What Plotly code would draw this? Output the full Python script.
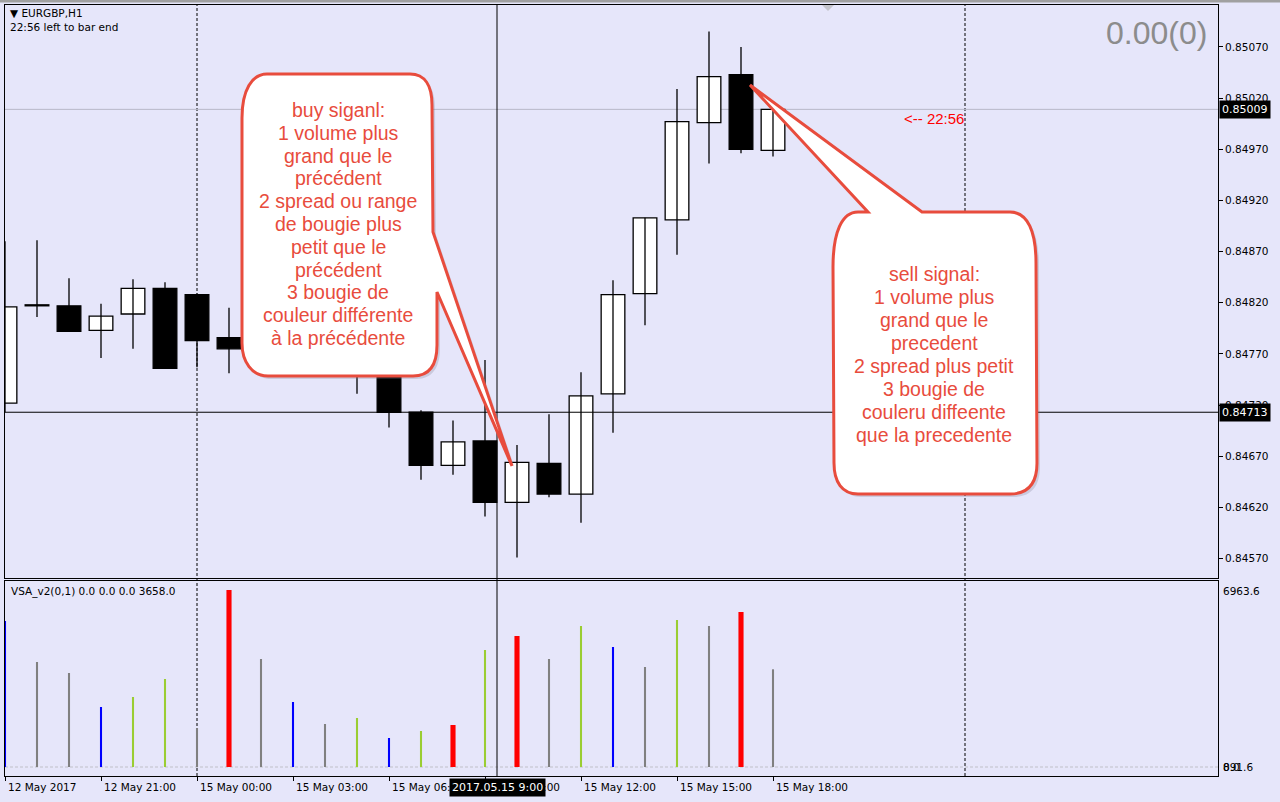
import plotly.graph_objects as go

# ---------------- data ----------------
bar_index = list(range(25))
opens  = [0.84722, 0.84817, 0.84817, 0.84793, 0.84809, 0.84834, 0.84828, 0.84786, 0.84775, 0.84794,
          0.84779, 0.84769, 0.84760, 0.84713, 0.84661, 0.84685, 0.84625, 0.84663, 0.84633, 0.84731,
          0.84829, 0.84901, 0.84996, 0.85043, 0.84969]
highs  = [0.84880, 0.84881, 0.84844, 0.84819, 0.84843, 0.84840, 0.84829, 0.84815, 0.84801, 0.84799,
          0.84786, 0.84779, 0.84764, 0.84715, 0.84705, 0.84764, 0.84681, 0.84711, 0.84752, 0.84842,
          0.84903, 0.85029, 0.85085, 0.85070, 0.85009]
lows   = [0.84713, 0.84806, 0.84792, 0.84766, 0.84775, 0.84756, 0.84757, 0.84751, 0.84764, 0.84772,
          0.84762, 0.84731, 0.84698, 0.84647, 0.84652, 0.84611, 0.84571, 0.84630, 0.84605, 0.84693,
          0.84798, 0.84867, 0.84956, 0.84966, 0.84963]
closes = [0.84816, 0.84818, 0.84792, 0.84807, 0.84834, 0.84756, 0.84783, 0.84775, 0.84794, 0.84779,
          0.84769, 0.84760, 0.84713, 0.84661, 0.84684, 0.84625, 0.84664, 0.84633, 0.84729, 0.84828,
          0.84903, 0.84997, 0.85041, 0.84970, 0.85009]

volumes = [5466, 3931, 3519, 2246, 2621, 3295, 1460, 6627, 4044, 2434,
           1610, 1835, 1086, 1348, 1572, 4380, 4905, 4044, 5279, 4493,
           3744, 5504, 5279, 5803, 3658]
vol_class = ['blue', 'gray', 'gray', 'blue', 'green', 'green', 'gray', 'red', 'gray', 'blue',
             'gray', 'green', 'blue', 'green', 'red', 'green', 'red', 'gray', 'green', 'blue',
             'gray', 'green', 'gray', 'red', 'gray']

tick_idx = [0, 3, 6, 9, 12, 15, 18, 21, 24]
tick_labels = ["12 May 2017", "12 May 21:00", "15 May 00:00", "15 May 03:00", "15 May 06:00",
               "15 May 09:00", "15 May 12:00", "15 May 15:00", "15 May 18:00"]
price_ticks = [0.84570, 0.84620, 0.84670, 0.84720, 0.84770, 0.84820, 0.84870,
               0.84920, 0.84970, 0.85020, 0.85070]
separator_idx = [6, 30]
current_price = 0.85009
cross_price = 0.84713
cross_idx = 15.375
vol_max_label = 6963.6
vol_min_label = 891.6

buy_text = ["buy siganl:", "1 volume plus", "grand que le", "précédent", "2 spread ou range",
            "de bougie plus", "petit que le", "précédent", "3 bougie de",
            "couleur différente", "à la précédente"]
sell_text = ["sell signal:", "1 volume plus", "grand que le", "precedent", "2 spread plus petit",
             "3 bougie de", "couleru diffeente", "que la precedente"]

# ---------------- styles ----------------
BG = "#E6E6FA"
RED = "#E84C3D"
vol_colors = {'blue': '#0000FF', 'gray': '#808080', 'green': '#9ACD32', 'red': '#FF0000'}
vol_widths = {'blue': 0.065, 'gray': 0.065, 'green': 0.065, 'red': 0.16}

W, H = 1280, 802
ML, MR, MT, MB = 5, 62, 5, 26
PW = W - ML - MR
PH = H - MT - MB
MAIN_BOTTOM_PX = 578
LOW_TOP_PX = 581


def PX(x):
    return (x - ML) / PW


def PY(y):
    return (H - MB - y) / PH


def path(points):
    out = []
    for cmd, pts in points:
        s = cmd
        for (x, y) in pts:
            s += " %.5f,%.5f" % (PX(x), PY(y))
        out.append(s)
    return " ".join(out) + " Z"


fig = go.Figure()

# wicks
wx, wy = [], []
for i, lo, hi in zip(bar_index, lows, highs):
    wx += [i, i, None]
    wy += [lo, hi, None]
fig.add_trace(go.Scatter(x=wx, y=wy, mode="lines", line=dict(color="black", width=1.3),
                         xaxis="x", yaxis="y", hoverinfo="skip"))

# bodies
base = [min(o, c) for o, c in zip(opens, closes)]
height = [max(abs(c - o), 0.00001) for o, c in zip(opens, closes)]
body_colors = ["white" if c >= o else "black" for o, c in zip(opens, closes)]
fig.add_trace(go.Bar(x=bar_index, y=height, base=base, width=0.74,
                     marker=dict(color=body_colors, line=dict(color="black", width=1.3)),
                     xaxis="x", yaxis="y", hoverinfo="skip"))

# volume histogram
fig.add_trace(go.Bar(x=bar_index, y=volumes,
                     width=[vol_widths[c] for c in vol_class],
                     marker=dict(color=[vol_colors[c] for c in vol_class], line=dict(width=0)),
                     xaxis="x2", yaxis="y2", hoverinfo="skip"))

main_dom = [(H - MB - MAIN_BOTTOM_PX) / PH, 1]
low_dom = [0, (H - MB - LOW_TOP_PX) / PH]
xmax = PW / 32.0
low_range = [-337, vol_max_label]

axis_common = dict(showline=True, mirror=True, linecolor="black", linewidth=1,
                   showgrid=False, zeroline=False)

fig.update_layout(
    width=W, height=H,
    margin=dict(l=ML, r=MR, t=MT, b=MB),
    paper_bgcolor=BG, plot_bgcolor=BG,
    font=dict(family="DejaVu Sans", size=10.5, color="black"),
    showlegend=False, barmode="overlay", hovermode=False,
    xaxis=dict(domain=[0, 1], anchor="y", range=[0, xmax], showticklabels=False, ticks="",
               **axis_common),
    xaxis2=dict(domain=[0, 1], anchor="y2", matches="x", range=[0, xmax],
                tickvals=tick_idx, ticks="outside", ticklen=4, tickcolor="black",
                showticklabels=False, **axis_common),
    yaxis=dict(domain=main_dom, anchor="x", side="right", range=[0.84551, 0.85111],
               tickvals=price_ticks, ticktext=["%.5f" % v for v in price_ticks],
               ticks="outside", ticklen=4, tickcolor="black", **axis_common),
    yaxis2=dict(domain=low_dom, anchor="x2", side="right", range=low_range,
                showticklabels=False, ticks="", **axis_common),
)

shapes = []
# window frame top
shapes.append(dict(type="rect", xref="paper", yref="paper", x0=PX(0), x1=PX(W), y0=PY(0), y1=PY(2.5),
                   fillcolor="#A0A0A0", line=dict(width=0), layer="above"))
# separators
for s in separator_idx:
    shapes.append(dict(type="line", xref="x", yref="paper", x0=s, x1=s, y0=0, y1=1,
                       line=dict(color="black", width=1, dash="3px,2px"), layer="below"))
# current price line
shapes.append(dict(type="line", xref="paper", yref="y", x0=0, x1=1, y0=current_price, y1=current_price,
                   line=dict(color="#B8B8C8", width=1), layer="below"))
# zero level in volume window
shapes.append(dict(type="line", xref="paper", yref="y2", x0=0, x1=1, y0=0, y1=0,
                   line=dict(color="#C0C0C8", width=1, dash="3px,2px"), layer="below"))
# crosshair
shapes.append(dict(type="line", xref="paper", yref="y", x0=0, x1=1, y0=cross_price, y1=cross_price,
                   line=dict(color="black", width=1), layer="above"))
shapes.append(dict(type="line", xref="x", yref="paper", x0=cross_idx, x1=cross_idx, y0=0, y1=1,
                   line=dict(color="black", width=1), layer="above"))
# small shift marker
shapes.append(dict(type="path", xref="paper", yref="paper",
                   path=path([("M", [(822, 5)]), ("L", [(834, 5)]), ("L", [(828, 11)])]),
                   fillcolor="#C4C4CC", line=dict(width=0), layer="above"))

buy_pts = [("M", [(267, 74)]), ("L", [(410, 74)]),
           ("C", [(425, 74), (432, 86), (432, 105)]),
           ("L", [(433, 232)]), ("L", [(512, 466)]), ("L", [(437, 292)]),
           ("L", [(437, 345)]),
           ("C", [(437, 364), (430, 376), (413, 376)]),
           ("L", [(268, 376)]),
           ("C", [(252, 376), (242, 362), (242, 343)]),
           ("L", [(242, 118)]),
           ("C", [(242, 90), (252, 74), (267, 74)])]
sell_pts = [("M", [(858, 212)]), ("L", [(868, 212)]), ("L", [(750, 85)]), ("L", [(922, 212)]),
            ("L", [(1010, 212)]),
            ("C", [(1028, 212), (1036, 232), (1036, 263)]),
            ("L", [(1037, 463)]),
            ("C", [(1037, 484), (1028, 494), (1010, 494)]),
            ("L", [(858, 494)]),
            ("C", [(842, 494), (834, 482), (834, 463)]),
            ("L", [(833, 267)]),
            ("C", [(833, 232), (842, 212), (858, 212)])]


def shifted(pts, dx, dy):
    return [(c, [(x + dx, y + dy) for (x, y) in p]) for c, p in pts]


for pts in (buy_pts, sell_pts):
    shapes.append(dict(type="path", xref="paper", yref="paper", path=path(shifted(pts, 3, 3)),
                       fillcolor="rgba(120,120,140,0.25)", line=dict(width=0), layer="above"))
    shapes.append(dict(type="path", xref="paper", yref="paper", path=path(pts),
                       fillcolor="white", line=dict(color=RED, width=3), layer="above"))

fig.update_layout(shapes=shapes)

ann = []
# x labels
for i, t in zip(tick_idx, tick_labels):
    ann.append(dict(x=i, xref="x2", y=PY(787), yref="paper", text=t, showarrow=False,
                    xanchor="left", yanchor="middle", xshift=1, font=dict(size=10.5)))
# crosshair time label
ann.append(dict(x=cross_idx, xref="x2", y=PY(787), yref="paper", text="2017.05.15 9:00",
                showarrow=False, xanchor="center", yanchor="middle", bgcolor="black",
                font=dict(color="white", size=11), borderpad=2))
# price boxes
for p in (current_price, cross_price):
    ann.append(dict(x=PX(1219), xref="paper", y=p, yref="y", text="%.5f" % p, showarrow=False,
                    xanchor="left", yanchor="middle", bgcolor="black",
                    font=dict(color="white", size=11), borderpad=2))
# volume scale labels
ann.append(dict(x=PX(1221), xref="paper", y=PY(591), yref="paper", text="%.1f" % vol_max_label,
                showarrow=False, xanchor="left", yanchor="middle"))
ann.append(dict(x=PX(1221), xref="paper", y=0, yref="y2", text="%.1f" % vol_min_label,
                showarrow=False, xanchor="left", yanchor="middle"))
ann.append(dict(x=PX(1221), xref="paper", y=0, yref="y2", text="0.0",
                showarrow=False, xanchor="left", yanchor="middle"))
# top-left info
ann.append(dict(x=PX(8), xref="paper", y=PY(13), yref="paper", text="▼ EURGBP,H1",
                showarrow=False, xanchor="left", yanchor="middle"))
ann.append(dict(x=PX(8), xref="paper", y=PY(27), yref="paper", text="22:56 left to bar end",
                showarrow=False, xanchor="left", yanchor="middle"))
ann.append(dict(x=PX(9), xref="paper", y=PY(591), yref="paper",
                text="VSA_v2(0,1) 0.0 0.0 0.0 %.1f" % volumes[-1],
                showarrow=False, xanchor="left", yanchor="middle"))
# big counter
ann.append(dict(x=PX(1209), xref="paper", y=PY(33), yref="paper", text="0.00(0)", showarrow=False,
                xanchor="right", yanchor="middle",
                font=dict(family="Liberation Sans", size=32, color="#8C8C8C")))
# time left arrow
ann.append(dict(x=PX(902), xref="paper", y=PY(118), yref="paper", text="<-- 22:56", showarrow=False,
                xanchor="left", yanchor="middle",
                font=dict(family="Liberation Sans", size=15, color="#FF0000")))
# callout texts (one annotation per line for tight line spacing)
for k, line in enumerate(buy_text):
    ann.append(dict(x=PX(338), xref="paper", y=PY(110 + 22.8 * k), yref="paper", text=line,
                    showarrow=False, xanchor="center", yanchor="middle",
                    font=dict(family="Liberation Sans", size=19.5, color=RED)))
for k, line in enumerate(sell_text):
    ann.append(dict(x=PX(934), xref="paper", y=PY(274 + 23 * k), yref="paper", text=line,
                    showarrow=False, xanchor="center", yanchor="middle",
                    font=dict(family="Liberation Sans", size=19.5, color=RED)))

fig.update_layout(annotations=ann)

fig.write_html("out.html", config={"displayModeBar": False},
               post_script="document.body.style.margin='0';document.body.style.background='%s';" % BG)
